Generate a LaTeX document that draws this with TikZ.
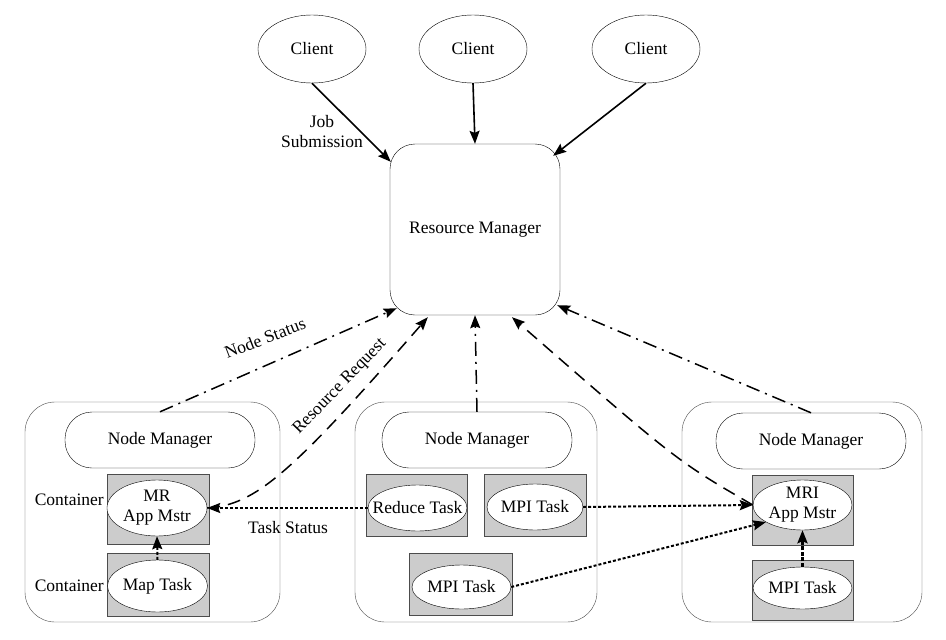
\documentclass[tikz,border=0pt]{standalone}
\usepackage{fontspec}
\setmainfont{Liberation Serif}
\usetikzlibrary{arrows.meta,shapes.geometric}

\begin{document}
\begin{tikzpicture}[x=1pt,y=-1pt,
  font=\fontsize{17.5}{20}\selectfont,
  client/.style={draw,ellipse,thin,minimum width=108pt,minimum height=68pt,inner sep=0pt},
  rm/.style={draw,thin,rounded corners=25pt,minimum width=170pt,minimum height=171pt},
  host/.style={draw=gray!60!black,thin,rounded corners=30pt},
  nm/.style={draw,thin,rounded corners=27pt,minimum width=190pt,minimum height=56pt},
  cont/.style={draw=gray!60!black,fill=gray!40,minimum width=102pt,inner sep=0pt},
  task/.style={draw,ellipse,fill=white,inner sep=0pt},
  tip/.style={-{Stealth[length=13pt,width=10pt,inset=2pt]}},
  sub/.style={tip,line width=1.6pt},
  stat/.style={tip,line width=1.5pt,dash pattern=on 14pt off 6pt on 2pt off 6pt},
  req/.style={tip,line width=1.5pt,dash pattern=on 13pt off 8pt},
  tsk/.style={tip,line width=2pt,dash pattern=on 3pt off 2pt}]
  \useasboundingbox[fill=white] (0,0) rectangle (946,640);
  % clients and resource manager
  \node[client] (cl1) at (312,49) {Client};
  \node[client] (cl2) at (473,49) {Client};
  \node[client] (cl3) at (646,49) {Client};
  \node[rm] (RM) at (475,229.5) {Resource Manager};
  % hosts
  \node[host,minimum width=255pt,minimum height=220pt] (h1) at (152.5,512) {};
  \node[host,minimum width=242pt,minimum height=220pt] (h2) at (476,512) {};
  \node[host,minimum width=240pt,minimum height=220pt] (h3) at (802,512) {};
  \node[nm] (nm1) at (160,440) {Node Manager};
  \node[nm] (nm2) at (477,440) {Node Manager};
  \node[nm] (nm3) at (811,441) {Node Manager};
  % containers
  \node[cont,minimum height=70pt] (c1) at (158,509) {};
  \node[task,minimum width=100pt,minimum height=56pt,label={[align=center]center:{MR\\App Mstr}}] (mr) at (157,508) {};
  \node[cont,minimum height=63pt] (c2) at (158,584.5) {};
  \node[task,minimum width=100pt,minimum height=52pt,label=center:Map Task] (map) at (157.5,586) {};
  \node[anchor=east,inner sep=0pt] (lc1) at (104,500) {Container};
  \node[anchor=east,inner sep=0pt] (lc2) at (104,586) {Container};
  \node[cont,minimum width=101pt,minimum height=62pt] (c3) at (416.5,505) {};
  \node[task,minimum width=99pt,minimum height=46pt,label=center:Reduce Task] (red) at (417.5,508) {};
  \node[cont,minimum height=62pt] (c4) at (535,505) {};
  \node[task,minimum width=96pt,minimum height=46pt,label=center:MPI Task] (mpi1) at (535,507) {};
  \node[cont,minimum width=103pt,minimum height=62pt] (c5) at (460.5,584) {};
  \node[task,minimum width=99pt,minimum height=44pt,label=center:MPI Task] (mpi2) at (461.5,587) {};
  \node[cont,minimum width=101pt,minimum height=70pt] (c6) at (802.5,510) {};
  \node[task,minimum width=99pt,minimum height=50pt,label={[align=center]center:{MRI\\App Mstr}}] (mri) at (802.5,505) {};
  \node[cont,minimum width=101pt,minimum height=60pt] (c7) at (802.5,590) {};
  \node[task,minimum width=99pt,minimum height=42pt,label=center:MPI Task] (mpi3) at (802.5,588) {};
  % job submission
  \draw[sub] (cl1.south) -- ([shift={(1,18)}]RM.north west);
  \draw[sub] (cl2.south) -- (RM.north);
  \draw[sub] (cl3.south) -- ([shift={(-7,12)}]RM.north east);
  \node[align=center,inner sep=0pt] (js) at (322,132) {Job\\Submission};
  % node status
  \draw[stat] (nm1.north) -- ([shift={(7,-7)}]RM.south west);
  \draw[stat] (nm2.north) -- (RM.south);
  \draw[stat] (nm3.north) -- ([shift={(-3,-10)}]RM.south east);
  \node[rotate=21] (ns) at (265,338) {Node Status};
  % resource requests
  \draw[req] (mr.east) .. controls (255,505) and (290,475) .. ([shift={(38,2)}]RM.south west);
  \draw[req] (mri.west) .. controls (677,461) .. ([shift={(37,2)}]RM.south);
  \node[rotate=46] (rr) at (340,387) {Resource Request};
  % task status
  \draw[tsk] (red.west) -- (mr.east);
  \draw[tsk] (mpi1.east) -- (mri.west);
  \draw[tsk] (mpi2.east) -- (mri.205);
  \draw[tsk] (map.north) -- (mr.south);
  \draw[tsk,line width=2.6pt,dash pattern=on 4pt off 1.5pt] (mpi3.north) -- (mri.south);
  \node (ts) at (288,528) {Task Status};
\end{tikzpicture}
\end{document}
